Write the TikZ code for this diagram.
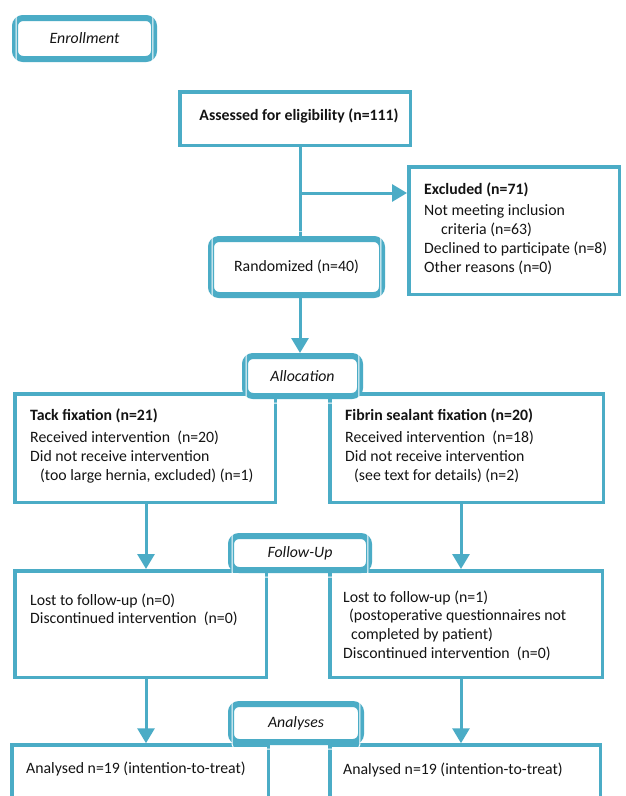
\documentclass[tikz,border=0pt]{standalone}
\usepackage{fontspec}
\setmainfont{Carlito}
\usetikzlibrary{arrows.meta}
\definecolor{teal5}{HTML}{4BACC6}
\definecolor{ink}{HTML}{141414}
\begin{document}
\begin{tikzpicture}[x=1pt,y=-1pt,
  every node/.style={font=\fontsize{15.8}{19}\selectfont, text=ink},
  plainbox/.style={draw=teal5, line width=3.5pt, fill=white, inner sep=0pt},
  dbox/.style={draw=teal5, line width=6pt, fill=white, rounded corners=8pt, inner sep=0pt, font=\fontsize{15.8}{19}\selectfont\itshape},
  txt/.style={anchor=north west, align=left, inner sep=0pt},
  conn/.style={draw=teal5, line width=3pt},
  arr/.style={draw=teal5, line width=3pt, -{Triangle[width=17pt,length=15pt]}},
]
\clip (0,0) rectangle (626,796);
\fill[white] (0,0) rectangle (626,796);

% helper coordinates for connector columns
\coordinate (cx) at (300,193);
\coordinate (lx) at (146,0);
\coordinate (rx) at (461,0);

% plain boxes
\node[plainbox, minimum width=230.5, minimum height=53.5] (assess) at (295,118.5) {};
\node[plainbox, minimum width=210.5, minimum height=127.5] (excl) at (514,230.5) {};
\node[plainbox, minimum width=260.5, minimum height=108.5] (tack) at (145,448) {};
\node[plainbox, minimum width=273.5, minimum height=108.5] (fib) at (466.5,448) {};
\node[plainbox, minimum width=251.5, minimum height=106.5] (fuL) at (140.5,624) {};
\node[plainbox, minimum width=272.5, minimum height=106.5] (fuR) at (466,624) {};
\node[plainbox, minimum width=256.5, minimum height=110] (anL) at (140,800) {};
\node[plainbox, minimum width=270.5, minimum height=110] (anR) at (465,800) {};
\node[inner sep=0pt] (assesst) at (299,116) {\textbf{Assessed for eligibility (n=111)}};

% connectors
\draw[conn] (assess.south -| cx) -- (cx);
\draw[conn] (cx) -- (cx |- 0,238);
\draw[arr] (cx) -- (excl.west |- cx);
\draw[arr] (tack.south -| lx) -- (fuL.north -| lx);
\draw[arr] (fib.south -| rx) -- (fuR.north -| rx);
\draw[arr] (fuL.south -| lx) -- (anL.north -| lx);
\draw[arr] (fuR.south -| rx) -- (anR.north -| rx);

% double rounded boxes
\node[dbox, minimum width=139, minimum height=41] (enr) at (84.5,38.5) {Enrollment};
\node[dbox, minimum width=171, minimum height=56, font=\fontsize{15.8}{19}\selectfont] (rand) at (296.5,267) {Randomized (n=40)};
\node[dbox, minimum width=115, minimum height=40] (alloc) at (302.5,376) {Allocation};
\node[dbox, minimum width=138, minimum height=34] (fu) at (300,553) {Follow-Up};
\node[dbox, minimum width=130, minimum height=38] (ana) at (296,723) {Analyses};
\foreach \n in {enr,rand,alloc,fu,ana}
  \draw[white, line width=1pt, rounded corners=4.5pt]
    ([shift={(4.2pt,4.2pt)}]\n.north west) rectangle ([shift={(-4.2pt,-4.2pt)}]\n.south east);

\draw[conn] (rand.north -| cx) -- (cx |- 0,232);
\draw[arr] (rand.south -| cx) -- (alloc.north -| cx);

% texts
\node[txt] (exclt) at (424,183) {\textbf{Excluded (n=71)}\\[2pt]Not meeting inclusion\\\hspace*{17pt}criteria (n=63)\\Declined to participate (n=8)\\Other reasons\ (n=0)};
\node[txt] (tackt) at (30,409) {\textbf{Tack fixation (n=21)}\\[3pt]Received intervention\ \ (n=20)\\Did not\ receive intervention\\\hspace*{10pt}(too large hernia, excluded)\ (n=1)};
\node[txt] (fibt) at (345,409) {\textbf{Fibrin sealant fixation (n=20)}\\[3pt]Received intervention\ \ (n=18)\\Did not\ receive intervention\\\hspace*{9pt}(see text for details) (n=2)};
\node[txt] (fuLt) at (30,594) {Lost to follow-up (n=0)\\[-1pt]Discontinued intervention\ \ (n=0)};
\node[txt] (fuRt) at (343,591) {Lost to follow-up (n=1)\\[-1pt]\hspace*{6pt}(postoperative questionnaires not\\\hspace*{8pt}completed by patient)\\Discontinued intervention\ \ (n=0)};
\node[txt] (anLt) at (26,762) {Analysed n=19 (intention-to-treat)};
\node[txt] (anRt) at (343,763) {Analysed n=19 (intention-to-treat)};
\end{tikzpicture}
\end{document}
